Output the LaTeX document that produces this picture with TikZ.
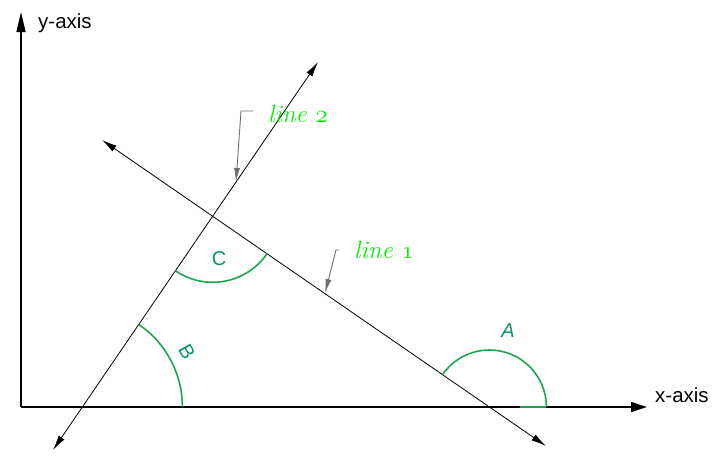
\documentclass[tikz,border=0pt]{standalone}
\usepackage{fontspec}
\setsansfont{Liberation Sans}
\usetikzlibrary{arrows.meta,calc}
\definecolor{arcgreen}{RGB}{30,165,80}
\definecolor{lblgreen}{RGB}{10,150,100}
\definecolor{linegreen}{RGB}{0,240,0}
\definecolor{leadergray}{RGB}{110,110,110}
\newcommand{\osfdigit}[1]{{\usefont{OML}{cmm}{m}{it}#1}}
\tikzset{
  axisline/.style={line width=1.4pt},
  geomline/.style={line width=0.8pt, {Latex[length=15pt,width=7pt]}-{Latex[length=15pt,width=7pt]}},
  anglearc/.style={draw=arcgreen, line width=1.6pt},
  leader/.style={draw=leadergray, line width=0.9pt, -{Latex[length=14pt,width=6pt]}},
  axislabel/.style={font=\sffamily\fontsize{20.5}{24}\selectfont, inner sep=0pt},
  anglelabel/.style={text=lblgreen, font=\sffamily\fontsize{20}{24}\selectfont, inner sep=0pt},
  linelabel/.style={text=linegreen, font=\itshape\fontsize{25}{28}\selectfont, inner sep=0pt}
}
\begin{document}
\begin{tikzpicture}[x=1pt,y=1pt]
\useasboundingbox (0,0) rectangle (719,-458);
% axes
\coordinate (O) at (21,-407);
\coordinate (Ytip) at (21,-12);
\coordinate (Xtip) at (647,-407);
\draw[axisline, -{Triangle[length=20pt,width=9pt]}] (O) -- (Ytip);
\draw[axisline, -{Triangle[length=16pt,width=10pt]}] (O) -- (Xtip);
\node[axislabel, anchor=base west] (ylab) at (38,-28) {y-axis};
\node[axislabel, anchor=base west] (xlab) at (655,-402) {x-axis};
% lines
\coordinate (L1a) at (102,-140);
\coordinate (L1b) at (546,-446);
\coordinate (L2a) at (53,-450);
\coordinate (L2b) at (318,-62);
\draw[geomline] (L1a) -- (L1b);
\draw[geomline] (L2a) -- (L2b);
\coordinate (VA) at (intersection of L1a--L1b and O--Xtip);
\coordinate (VB) at (intersection of L2a--L2b and O--Xtip);
\coordinate (VC) at (intersection of L1a--L1b and L2a--L2b);
% angle arcs
\draw[anglearc] ($(VB)+(100,0)$) arc[start angle=0, end angle=55.67, radius=100];
\draw[anglearc] ($(VA)+(57,0)$) arc[start angle=0, end angle=145.4, radius=57];
\draw[anglearc] ($(VA)+(31,0)$) -- ($(VA)+(57,0)$);
\draw[anglearc] ($(VC)+(235.67:66)$) arc[start angle=235.67, end angle=325.4, radius=66];
\node[anglelabel, font=\sffamily\itshape\fontsize{20}{24}\selectfont] (labA) at (508,-331) {A};
\node[anglelabel, rotate=-60] (labB) at (187,-352) {B};
\node[anglelabel] (labC) at (219,-259) {C};
% leaders
\coordinate (P2s) at (253,-111);
\coordinate (P2c) at (241,-111);
\coordinate (P2t) at (236,-182);
\draw[leader] (P2s) -- (P2c) -- (P2t);
\coordinate (P1s) at (339,-250);
\coordinate (P1c) at (336,-250);
\coordinate (P1t) at (325,-293);
\draw[leader] (P1s) -- (P1c) -- (P1t);
\node[linelabel, anchor=base west] (lab2) at (268,-122) {line \osfdigit{2}};
\node[linelabel, anchor=base west] (lab1) at (354,-258) {line \osfdigit{1}};
\end{tikzpicture}
\end{document}
